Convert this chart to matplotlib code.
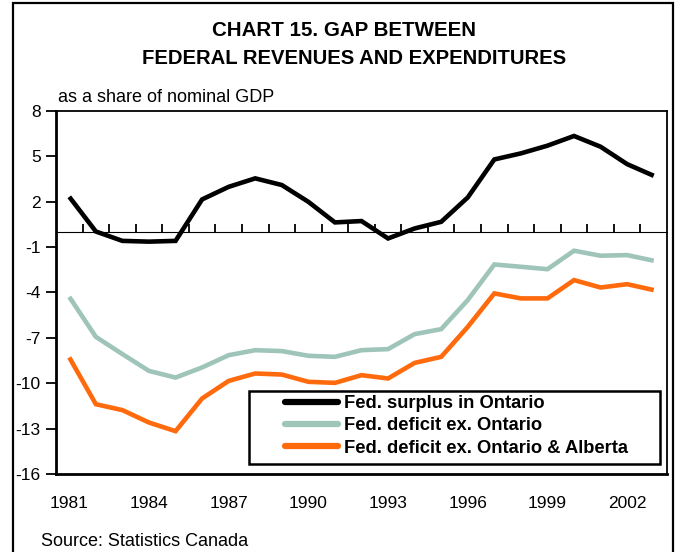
import matplotlib
matplotlib.use("Agg")
import matplotlib.pyplot as plt
from matplotlib.patches import Rectangle
import numpy as np

plt.rcParams['font.family'] = ['Liberation Sans', 'DejaVu Sans']

years = list(range(1981, 2004))
surplus_ontario = [2.31, 0.02, -0.6, -0.65, -0.6, 2.14, 2.97, 3.53, 3.09, 1.98, 0.62,
                   0.71, -0.44, 0.22, 0.66, 2.27, 4.78, 5.18, 5.69, 6.33, 5.62, 4.47, 3.70]
deficit_ex_on = [-4.30, -6.94, -8.08, -9.19, -9.63, -8.96, -8.15, -7.82, -7.88, -8.19, -8.26,
                 -7.82, -7.75, -6.76, -6.43, -4.51, -2.16, -2.31, -2.47, -1.25, -1.58, -1.54, -1.91]
deficit_ex_on_ab = [-8.30, -11.39, -11.78, -12.6, -13.17, -11.01, -9.85, -9.36, -9.43, -9.91, -9.98,
                    -9.47, -9.69, -8.66, -8.26, -6.28, -4.07, -4.40, -4.40, -3.19, -3.68, -3.46, -3.85]
series_names = ["Fed. surplus in Ontario", "Fed. deficit ex. Ontario",
                "Fed. deficit ex. Ontario & Alberta"]
y_ticks = [8, 5, 2, -1, -4, -7, -10, -13, -16]
x_label_years = [1981, 1984, 1987, 1990, 1993, 1996, 1999, 2002]

W, H = 678, 552
fig = plt.figure(figsize=(W / 100, H / 100), dpi=100)
fig.patch.set_facecolor('white')

# outer frame
fig.patches.append(Rectangle((13 / W, -0.05), (673 - 13) / W, (H - 3) / H + 0.05,
                             transform=fig.transFigure, fill=False, lw=1.6,
                             edgecolor='black', clip_on=False))

AX_L, AX_W, AX_B, AX_H = 56, 611, 474, 363.3
ax = fig.add_axes([AX_L / W, (H - AX_B) / H, AX_W / W, AX_H / H])
x = np.arange(len(years)) + 0.5
colors = ['#000000', '#9FC4B9', '#FF6A0D']
for vals, name, c in zip([surplus_ontario, deficit_ex_on, deficit_ex_on_ab], series_names, colors):
    ax.plot(x, vals, color=c, lw=3.3, label=name, solid_capstyle='butt', solid_joinstyle='miter')

ax.set_xlim(0, len(years))
ax.set_ylim(-16, 8)
ax.set_yticks(y_ticks)
ax.set_yticklabels([str(v) for v in y_ticks], fontsize=12.5)
ax.tick_params(axis='y', direction='out', length=7, width=1.3, pad=4)

ax.set_xticks([years.index(y) + 0.5 for y in x_label_years])
ax.set_xticklabels([str(y) for y in x_label_years], fontsize=12.5)
ax.tick_params(axis='x', length=0, pad=16)

for s in ['left', 'bottom']:
    ax.spines[s].set_linewidth(2.0)
for s in ['top', 'right']:
    ax.spines[s].set_linewidth(1.3)

# zero axis with category boundary ticks
sec = ax.secondary_xaxis(16 / 24)
sec.set_xticks(np.arange(1, len(years)))
sec.set_xticklabels([])
sec.tick_params(direction='out', length=6, width=1.3)
sec.spines['bottom'].set_linewidth(1.8)

# legend frame (box) and entries
ax.add_patch(Rectangle(((249 - AX_L) / AX_W, (AX_B - 464) / AX_H),
                       (660 - 249) / AX_W, (464 - 391) / AX_H,
                       transform=ax.transAxes, fill=True, facecolor='white',
                       edgecolor='black', lw=1.8, zorder=4))
leg = ax.legend(loc='upper left', bbox_to_anchor=((285 - AX_L) / AX_W, (AX_B - 395) / AX_H),
                frameon=False, prop={'weight': 'bold', 'size': 13.2},
                handlelength=2.9, handletextpad=0.3, borderpad=0, labelspacing=0.29,
                borderaxespad=0)
leg.set_zorder(5)
for line in leg.get_lines():
    line.set_linewidth(4.5)
    line.set_solid_capstyle('round')

fig.text(344 / W, 1 - 31 / H, "CHART 15. GAP BETWEEN", ha='center', va='center',
         fontsize=14.8, fontweight='bold')
fig.text(354 / W, 1 - 59 / H, "FEDERAL REVENUES AND EXPENDITURES", ha='center', va='center',
         fontsize=14.6, fontweight='bold')
fig.text(58 / W, 1 - 98 / H, "as a share of nominal GDP", ha='left', va='center', fontsize=13)
fig.text(41 / W, 1 - 541 / H, "Source: Statistics Canada", ha='left', va='center', fontsize=13)

fig.savefig('out.png', dpi=100)
